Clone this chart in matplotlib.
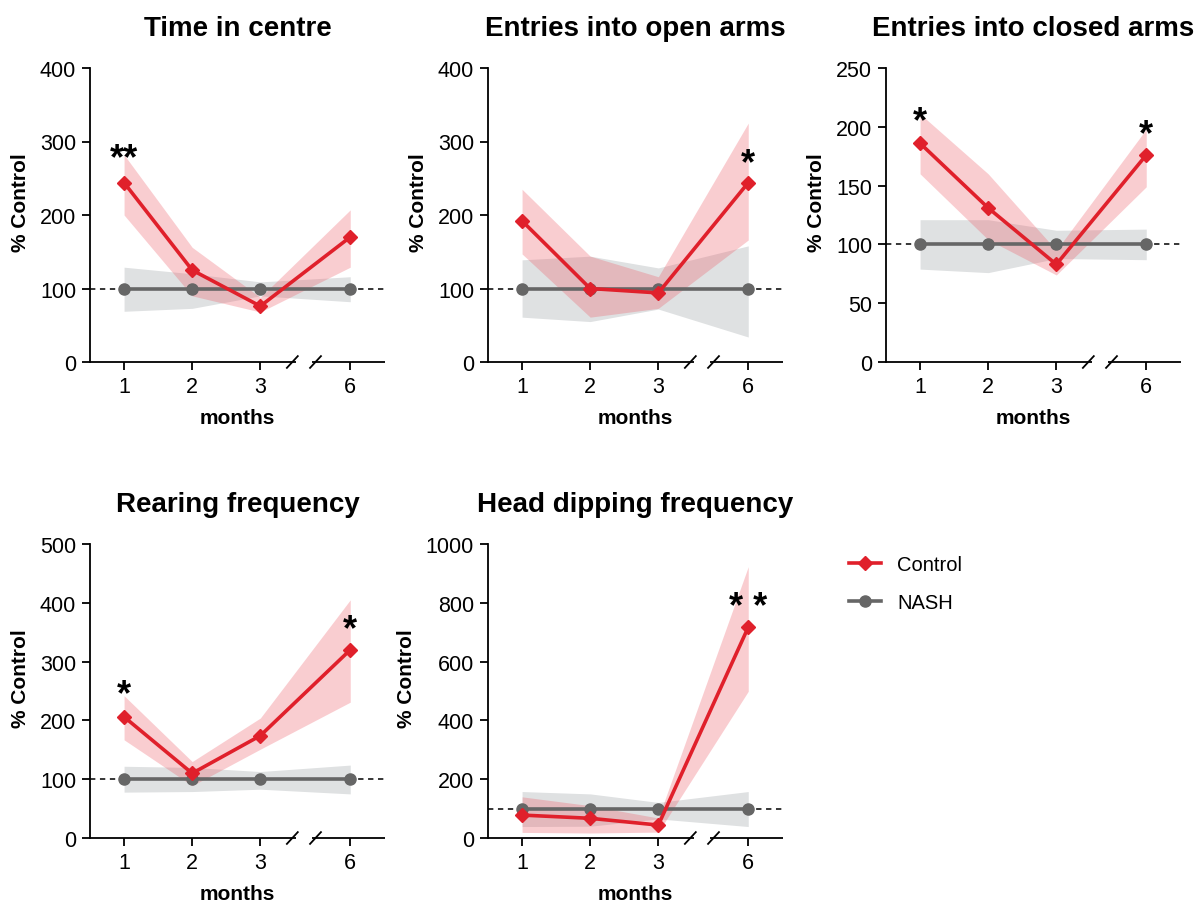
import matplotlib
matplotlib.use("Agg")
import matplotlib.pyplot as plt
from matplotlib.lines import Line2D

plt.rcParams['font.family'] = ['Liberation Sans', 'DejaVu Sans']

# ---------------- data ----------------
month_labels = ['1', '2', '3', '6']

titles = ['Time in centre', 'Entries into open arms', 'Entries into closed arms',
          'Rearing frequency', 'Head dipping frequency']

ctrl_1 = [244, 125, 76, 170]
ctrl_lo_1 = [200, 90, 68, 129]
ctrl_hi_1 = [282, 156, 88, 207]
nash_lo_1 = [69, 73, 90, 82]
nash_hi_1 = [129, 120, 109, 116]

ctrl_2 = [192, 100, 94, 244]
ctrl_lo_2 = [147, 61, 73, 166]
ctrl_hi_2 = [235, 144, 116, 325]
nash_lo_2 = [61, 55, 72, 34]
nash_hi_2 = [139, 144, 128, 158]

ctrl_3 = [186, 131, 83, 176]
ctrl_lo_3 = [160, 104, 74, 149]
ctrl_hi_3 = [211, 160, 95, 198]
nash_lo_3 = [79, 76, 88, 87]
nash_hi_3 = [121, 121, 112, 113]

ctrl_4 = [206, 110, 174, 320]
ctrl_lo_4 = [167, 89, 151, 231]
ctrl_hi_4 = [242, 130, 204, 405]
nash_lo_4 = [78, 79, 83, 75]
nash_hi_4 = [122, 120, 113, 124]

ctrl_5 = [78, 67, 44, 717]
ctrl_lo_5 = [19, 17, 20, 499]
ctrl_hi_5 = [140, 110, 68, 923]
nash_lo_5 = [39, 40, 65, 39]
nash_hi_5 = [158, 150, 121, 158]

nash_mean = [100, 100, 100, 100]

yticks_1 = [0, 100, 200, 300, 400]
yticks_2 = [0, 100, 200, 300, 400]
yticks_3 = [0, 50, 100, 150, 200, 250]
yticks_4 = [0, 100, 200, 300, 400, 500]
yticks_5 = [0, 200, 400, 600, 800, 1000]

stars_1 = [('**', 0, 290)]
stars_2 = [('*', 3, 284)]
stars_3 = [('*', 0, 213), ('*', 3, 202)]
stars_4 = [('*', 0, 261), ('*', 3, 372)]
stars_5 = [('* *', 3, 819)]

# ---------------- layout ----------------
W, H = 1199, 904
xpos = [0, 1, 2, 3.32]          # broken x axis: 1,2,3 | 6
xlim = (-0.5, 3.83)
gap = (2.52, 2.76)
slashes = [2.47, 2.81]

RED = '#e0202b'
RED_FILL = '#ee5a66'
GREY = '#666666'
GREY_FILL = '#dfe1e2'

panels = [
    (90, 69, titles[0], ctrl_1, ctrl_lo_1, ctrl_hi_1, nash_lo_1, nash_hi_1, yticks_1, stars_1),
    (488, 69, titles[1], ctrl_2, ctrl_lo_2, ctrl_hi_2, nash_lo_2, nash_hi_2, yticks_2, stars_2),
    (886, 69, titles[2], ctrl_3, ctrl_lo_3, ctrl_hi_3, nash_lo_3, nash_hi_3, yticks_3, stars_3),
    (90, 545, titles[3], ctrl_4, ctrl_lo_4, ctrl_hi_4, nash_lo_4, nash_hi_4, yticks_4, stars_4),
    (488, 545, titles[4], ctrl_5, ctrl_lo_5, ctrl_hi_5, nash_lo_5, nash_hi_5, yticks_5, stars_5),
]
AW, AH = 295, 294

fig = plt.figure(figsize=(W / 100, H / 100), dpi=100)

for (px, py, title, c, clo, chi, nlo, nhi, yt, stars) in panels:
    ax = fig.add_axes([px / W, 1 - (py + AH) / H, AW / W, AH / H])
    ax.set_xlim(*xlim)
    ax.set_ylim(yt[0], yt[-1])
    ax.set_yticks(yt)
    ax.set_xticks(xpos)
    ax.set_xticklabels(month_labels)
    for s in ['top', 'right', 'bottom']:
        ax.spines[s].set_visible(False)
    ax.spines['left'].set_linewidth(1.3)
    ax.tick_params(axis='both', direction='out', length=6, width=1.3,
                   labelsize=15.5, pad=4, colors='black')

    xt = ax.get_xaxis_transform()
    # broken bottom axis line
    ax.plot([xlim[0], gap[0]], [0, 0], color='black', lw=1.3, transform=xt,
            clip_on=False, solid_capstyle='butt', zorder=6)
    ax.plot([gap[1], xlim[1]], [0, 0], color='black', lw=1.3, transform=xt,
            clip_on=False, solid_capstyle='butt', zorder=6)
    for sx in slashes:
        ax.plot([sx - 0.08, sx + 0.08], [-0.02, 0.02], color='black', lw=1.3,
                transform=xt, clip_on=False, zorder=6)

    # reference line
    ax.plot(list(xlim), [100, 100], color='black', lw=1.1, ls=(0, (3.5, 3)), zorder=1)

    ax.fill_between(xpos, nlo, nhi, color=GREY_FILL, lw=0, zorder=2)
    ax.fill_between(xpos, clo, chi, color=RED_FILL, alpha=0.3, lw=0, zorder=3)
    ax.plot(xpos, nash_mean, color=GREY, lw=2.6, marker='o', ms=8, zorder=4)
    ax.plot(xpos, c, color=RED, lw=2.6, marker='D', ms=7, zorder=5)

    for txt, i, yv in stars:
        ax.annotate(txt, xy=(xpos[i], yv), xytext=(0, -14), textcoords='offset points',
                    ha='center', va='baseline', fontsize=26, fontweight='bold', zorder=7)

    ax.set_title(title, fontsize=20, fontweight='bold', pad=24)
    ax.set_ylabel('% Control', fontsize=15, fontweight='bold', labelpad=7)
    ax.yaxis.label.set_y(0.545)
    ax.set_xlabel('months', fontsize=15, fontweight='bold', labelpad=8)

handles = [Line2D([], [], color=RED, lw=2.6, marker='D', ms=7),
           Line2D([], [], color=GREY, lw=2.6, marker='o', ms=8)]
fig.legend(handles, ['Control', 'NASH'], loc='upper left',
           bbox_to_anchor=(849 / W, 1 - 556 / H), frameon=False, fontsize=14.5,
           borderpad=0, borderaxespad=0, handlelength=1.6, handletextpad=0.8,
           labelspacing=0.95)

fig.savefig('out.png', dpi=100)
